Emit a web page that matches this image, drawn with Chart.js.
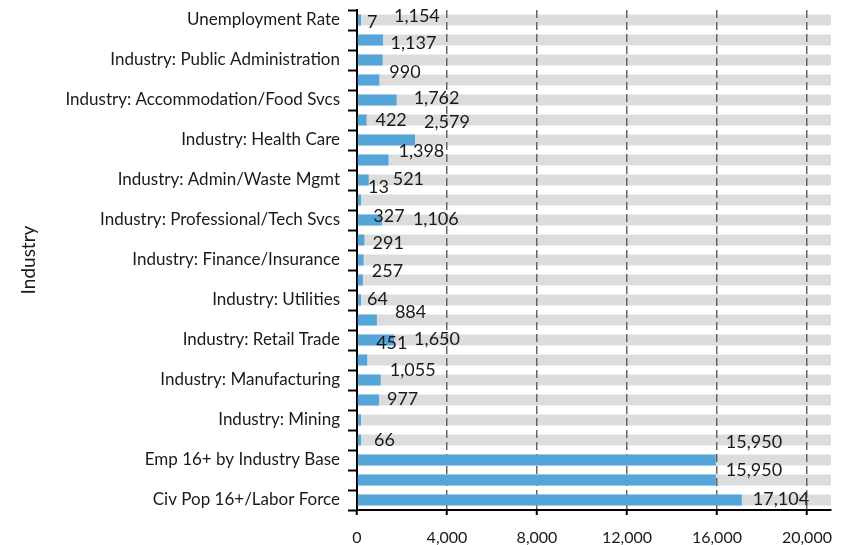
<!DOCTYPE html>
<html>
<head>
<meta charset="utf-8">
<script src="https://cdn.jsdelivr.net/npm/chart.js@4.4.1/dist/chart.umd.min.js"></script>
<style>
  html, body { margin: 0; padding: 0; background: #fff; }
  #industriaChart { display: block; }
</style>
</head>
<body>
<canvas id="industriaChart" width="842" height="545"></canvas>
<script>
// categorias de arriba hacia abajo (solo se rotulan las filas pares)
const categorias = [
  'Unemployment Rate',
  'Unemployed',
  'Industry: Public Administration',
  'Industry: Other Svcs',
  'Industry: Accommodation/Food Svcs',
  'Industry: Arts/Entertainment',
  'Industry: Health Care',
  'Industry: Educational Svcs',
  'Industry: Admin/Waste Mgmt',
  'Industry: Mgmt of Companies',
  'Industry: Professional/Tech Svcs',
  'Industry: Real Estate',
  'Industry: Finance/Insurance',
  'Industry: Information',
  'Industry: Utilities',
  'Industry: Transportation/Warehousing',
  'Industry: Retail Trade',
  'Industry: Wholesale Trade',
  'Industry: Manufacturing',
  'Industry: Construction',
  'Industry: Mining',
  'Industry: Agriculture',
  'Emp 16+ by Industry Base',
  'Civ Employed 16+',
  'Civ Pop 16+/Labor Force'
];
const valores = [7, 1154, 1137, 990, 1762, 422, 2579, 1398, 521, 13, 1106, 327, 291, 257,
                 64, 884, 1650, 451, 1055, 977, 0, 66, 15950, 15950, 17104];
const ticksX = [0, 4000, 8000, 12000, 16000, 20000];
const maxX = 21070;

// desplazamiento de cada etiqueta respecto al final de su barra (px)
const etiquetaDx = [6, 11, 8, 10, 17, 9, 9, 10, 24, 7, 31, 9, 9, 9, 6, 18, 20, 9, 9, 8, 0, 13, 10, 10, 11];
const etiquetaDy = [2, -24, -17, -8, -2, 0, -18, -9, -1, -13, -1, -24, -17, -9, -1, -8, -1, -17, -10, -1, 0, 0, -18, -10, -1];

const fuente = 'Lato, "Open Sans", sans-serif';
const colorTexto = '#1a1a1a';

// pista gris detras de cada barra
const pistaFondo = {
  id: 'pistaFondo',
  beforeDraw(chart) {
    const ctx = chart.ctx;
    const area = chart.chartArea;
    const meta = chart.getDatasetMeta(0);
    ctx.save();
    ctx.fillStyle = '#dcdcdc';
    meta.data.forEach((bar) => {
      const p = bar.getProps(['y', 'height'], true);
      ctx.fillRect(area.left, p.y - p.height / 2, area.right - area.left, p.height);
    });
    ctx.restore();
  }
};

// valores al lado de cada barra
const etiquetasValor = {
  id: 'etiquetasValor',
  afterDatasetsDraw(chart) {
    const ctx = chart.ctx;
    const meta = chart.getDatasetMeta(0);
    ctx.save();
    ctx.font = '18px ' + fuente;
    ctx.fillStyle = colorTexto;
    ctx.textAlign = 'left';
    ctx.textBaseline = 'middle';
    meta.data.forEach((bar, i) => {
      if (!valores[i]) return;
      const p = bar.getProps(['x', 'y'], true);
      ctx.fillText(valores[i].toLocaleString('en-US'), p.x + etiquetaDx[i], p.y + etiquetaDy[i]);
    });
    ctx.restore();
  }
};

function renderizar_grafico_industria() {
  const canvas = document.getElementById('industriaChart').getContext('2d');
  new Chart(canvas, {
    type: 'bar',
    data: {
      labels: categorias,
      datasets: [{
        data: valores,
        backgroundColor: '#55a5da',
        borderWidth: 0,
        minBarLength: 4,
        barPercentage: 0.55,
        categoryPercentage: 1
      }]
    },
    options: {
      indexAxis: 'y',
      responsive: false,
      animation: false,
      devicePixelRatio: 1,
      layout: { padding: { top: 10, right: 11, left: 0, bottom: 0 } },
      plugins: {
        legend: { display: false },
        tooltip: { enabled: false }
      },
      scales: {
        x: {
          min: 0,
          max: maxX,
          afterBuildTicks: (scale) => { scale.ticks = ticksX.map(v => ({ value: v })); },
          afterFit: (scale) => {
            scale.height = 35;
            scale.paddingLeft = 0;
            scale.paddingRight = 0;
          },
          ticks: {
            color: colorTexto,
            font: { family: fuente, size: 16 },
            padding: 13,
            maxRotation: 0,
            callback: (v) => v.toLocaleString('en-US')
          },
          grid: {
            color: '#666',
            lineWidth: 1.5,
            tickColor: '#000',
            tickWidth: 2,
            tickLength: 5,
            tickBorderDash: []
          },
          border: { color: '#000', width: 2, dash: [8, 4] }
        },
        y: {
          afterFit: (scale) => {
            scale.width = 357;
            scale.paddingTop = 0;
            scale.paddingBottom = 0;
          },
          ticks: {
            autoSkip: false,
            color: colorTexto,
            font: { family: fuente, size: 17 },
            padding: 8,
            callback: function (v, i) { return i % 2 === 0 ? categorias[i] : ''; }
          },
          grid: {
            drawOnChartArea: false,
            tickColor: '#000',
            tickWidth: 2,
            tickLength: 9
          },
          border: { color: '#000', width: 2 },
          title: {
            display: true,
            text: 'Industry',
            color: colorTexto,
            font: { family: fuente, size: 19 },
            padding: { top: 17 }
          }
        }
      }
    },
    plugins: [pistaFondo, etiquetasValor]
  });
}

renderizar_grafico_industria();
</script>
</body>
</html>
